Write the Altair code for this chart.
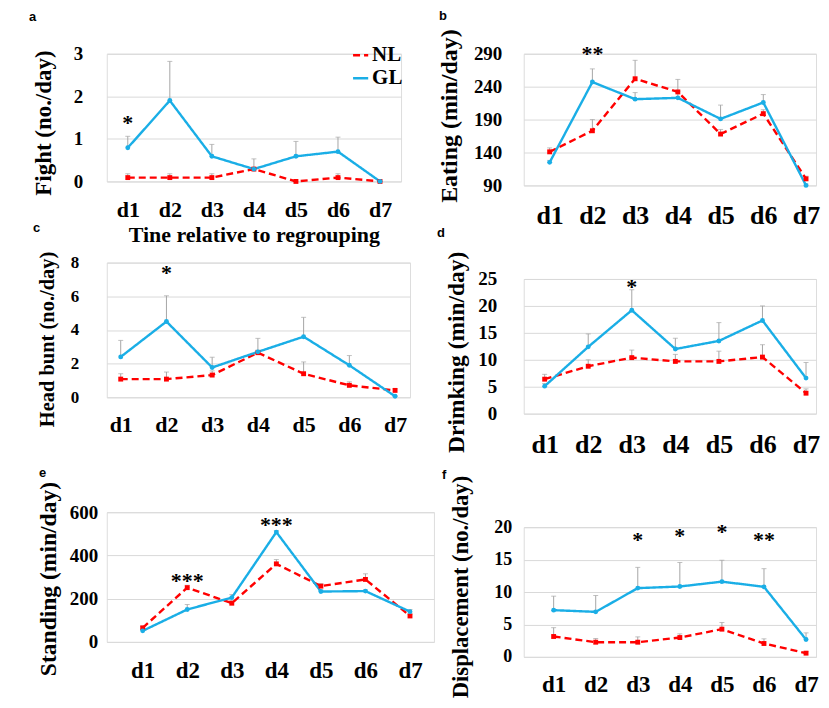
import altair as alt
import pandas as pd

days = ["d1", "d2", "d3", "d4", "d5", "d6", "d7"]
groups = ["NL", "GL"]

fight_nl = [0.09, 0.09, 0.09, 0.29, 0.0, 0.09, 0.0]
fight_nl_err = [0.18, 0.18, 0.18, 0.33, 0.0, 0.18, 0.0]
fight_gl = [0.79, 1.9, 0.59, 0.29, 0.59, 0.70, 0.0]
fight_gl_err = [1.06, 2.82, 0.87, 0.53, 0.94, 1.04, 0.0]

eating_nl = [141, 173, 252, 232, 168, 199, 100]
eating_nl_err = [147, 190, 280, 251, 175, 205, 104]
eating_gl = [125, 247, 221, 223, 191, 216, 90]
eating_gl_err = [128, 267, 231, 233, 212, 228, 92]

headbunt_nl = [1.08, 1.08, 1.32, 2.65, 1.4, 0.71, 0.41]
headbunt_nl_err = [1.4, 1.5, 1.57, 2.8, 2.1, 0.92, 0.5]
headbunt_gl = [2.4, 4.5, 1.77, 2.7, 3.6, 1.9, 0.06]
headbunt_gl_err = [3.38, 6.03, 2.38, 3.5, 4.75, 2.48, 0.1]

drinking_nl = [6.4, 8.8, 10.4, 9.7, 9.7, 10.5, 3.8]
drinking_nl_err = [7.3, 10.0, 11.8, 11.0, 11.6, 12.8, 4.6]
drinking_gl = [5.1, 12.4, 19.2, 12.0, 13.5, 17.3, 6.6]
drinking_gl_err = [5.6, 14.8, 23.0, 14.0, 16.9, 20.0, 9.5]

standing_nl = [65, 251, 179, 361, 258, 289, 120]
standing_nl_err = [72, 262, 190, 381, 269, 315, 128]
standing_gl = [51, 150, 205, 508, 233, 235, 140]
standing_gl_err = [58, 173, 219, 515, 240, 240, 150]

displacement_nl = [3.14, 2.26, 2.26, 2.98, 4.27, 2.06, 0.57]
displacement_nl_err = [4.5, 2.83, 3.08, 3.55, 5.3, 2.78, 0.8]
displacement_gl = [7.2, 6.94, 10.6, 10.85, 11.6, 10.8, 2.67]
displacement_gl_err = [9.36, 9.46, 13.8, 14.55, 14.9, 13.6, 3.7]

# significance marks: day, height, label
fight_sig_days, fight_sig_vals, fight_sig_txt = ["d1"], [1.49], ["*"]
eating_sig_days, eating_sig_vals, eating_sig_txt = ["d2"], [297.6], ["**"]
headbunt_sig_days, headbunt_sig_vals, headbunt_sig_txt = ["d2"], [7.7], ["*"]
drinking_sig_days, drinking_sig_vals, drinking_sig_txt = ["d3"], [24.5], ["*"]
standing_sig_days, standing_sig_vals, standing_sig_txt = ["d2", "d4"], [303, 564], ["***", "***"]
displacement_sig_days = ["d3", "d4", "d5", "d6"]
displacement_sig_vals = [18.8, 19.4, 20.0, 18.8]
displacement_sig_txt = ["*", "*", "*", "**"]

RED = "#ff0000"
BLUE = "#1aaee6"
SERIF = "Liberation Serif"
SANS = "Liberation Sans"


def panel(letter, ytitle, nl, nl_err, gl, gl_err, sdays, svals, stxt, domain, ticks,
          width, height, letter_dx, title_offset, xlab_size, xlab_pad, ylab_size, ylab_pad,
          ytitle_size, ytitle_pad, ytitle_shift, xpad=0.5, xalign=0.5, legend=False,
          xtitle=None):
    df = pd.DataFrame({
        "day": days * 2,
        "group": ["NL"] * len(days) + ["GL"] * len(days),
        "value": nl + gl,
        "err": nl_err + gl_err,
    })
    sig = pd.DataFrame({"day": sdays, "value": svals, "txt": stxt})

    xaxis_kw = dict(labelAngle=0, domain=False, ticks=False, grid=False,
                    labelFont=SERIF, labelFontSize=xlab_size, labelFontWeight="bold",
                    labelColor="black", labelPadding=xlab_pad)
    if xtitle:
        xaxis_kw.update(title=xtitle, titleFont=SERIF, titleFontSize=22,
                        titleFontWeight="bold", titleColor="black", titlePadding=4)
    else:
        xaxis_kw.update(title=None)
    x = alt.X("day:O", sort=days,
              scale=alt.Scale(type="point", padding=xpad, align=xalign),
              axis=alt.Axis(**xaxis_kw))
    yscale = alt.Scale(domain=domain, nice=False, zero=False)
    yaxis = alt.Axis(values=ticks, grid=True, gridColor="#d9d9d9", gridWidth=1,
                     domain=False, ticks=False, labelOverlap=False, labelFont=SERIF,
                     labelFontSize=ylab_size, labelFontWeight="bold",
                     labelColor="black", labelPadding=ylab_pad, title=ytitle,
                     titleFont=SERIF, titleFontSize=ytitle_size,
                     titleFontWeight="bold", titleColor="black",
                     titlePadding=ytitle_pad, titleY=height / 2 + ytitle_shift)
    y = alt.Y("value:Q", scale=yscale, axis=yaxis)
    y_err = alt.Y("err:Q", scale=yscale, axis=yaxis)

    if legend:
        leg = alt.Legend(title=None, orient="none", legendX=244, legendY=-9,
                         symbolType="stroke", symbolSize=230, symbolStrokeWidth=2.5,
                         labelFont=SERIF, labelFontSize=21, labelFontWeight="bold",
                         labelColor="black", labelOffset=1, rowPadding=1, padding=0)
    else:
        leg = None
    color = alt.Color("group:N", scale=alt.Scale(domain=groups, range=[RED, BLUE]), legend=leg)
    dash = alt.StrokeDash("group:N", scale=alt.Scale(domain=groups, range=[[7, 4], [1, 0]]),
                          legend=leg)

    base = alt.Chart(df)
    rules = base.mark_rule(color="#a6a6a6", strokeWidth=1).encode(x=x, y=y, y2=alt.Y2("err:Q"))
    caps = base.mark_tick(color="#a6a6a6", size=5, thickness=1).encode(x=x, y=y_err)
    lines = base.mark_line(strokeWidth=2.4).encode(x=x, y=y, color=color, strokeDash=dash)
    pts_nl = base.transform_filter(alt.datum.group == "NL").mark_square(
        size=24, color=RED, opacity=1).encode(x=x, y=y)
    pts_gl = base.transform_filter(alt.datum.group == "GL").mark_circle(
        size=24, color=BLUE, opacity=1).encode(x=x, y=y)
    stars = alt.Chart(sig).mark_text(font=SERIF, fontSize=22, fontWeight="bold", color="black",
                                     baseline="middle", dy=5).encode(x=x, y=y, text="txt:N")

    return alt.layer(rules, caps, lines, pts_nl, pts_gl, stars).properties(
        width=width, height=height,
        title=alt.TitleParams(text=letter, anchor="start", frame="group", dx=letter_dx,
                              offset=title_offset, font=SANS, fontSize=13,
                              fontWeight="bold", color="black"))


pa = panel("a", "Fight (no./day)", fight_nl, fight_nl_err, fight_gl, fight_gl_err,
           fight_sig_days, fight_sig_vals, fight_sig_txt, [0, 3], [0, 1, 2, 3],
           295, 128, -78, 21, 22, 18.6, 19, 24, 23, 17.5, 5, legend=True,
           xtitle="Tine relative to regrouping")
pb = panel("b", "Eating (min/day)", eating_nl, eating_nl_err, eating_gl, eating_gl_err,
           eating_sig_days, eating_sig_vals, eating_sig_txt, [90, 290], [90, 140, 190, 240, 290],
           293, 132, -85, 5.5, 26, 17.5, 19, 22, 24, 11.5, -4, xpad=0.42, xalign=0.722)
pc = panel("c", "Head bunt (no./day)", headbunt_nl, headbunt_nl_err, headbunt_gl, headbunt_gl_err,
           headbunt_sig_days, headbunt_sig_vals, headbunt_sig_txt, [0, 8], [0, 2, 4, 6, 8],
           304, 135, -74, 16, 22, 17.6, 17, 28, 20.5, 12.5, 9, xpad=0.316, xalign=0.483)
pd_ = panel("d", "Drimking (min/day)", drinking_nl, drinking_nl_err, drinking_gl, drinking_gl_err,
            drinking_sig_days, drinking_sig_vals, drinking_sig_txt, [0, 25], [0, 5, 10, 15, 20, 25],
            293, 135, -87, 11.5, 26, 17.5, 19, 27, 23.5, 9.5, 5.5, xpad=0.355, xalign=0.677)
pe = panel("e", "Standing (min/day)", standing_nl, standing_nl_err, standing_gl, standing_gl_err,
           standing_sig_days, standing_sig_vals, standing_sig_txt, [0, 600], [0, 200, 400, 600],
           328, 130, -68, 1.5, 23, 17.8, 19, 9, 23.6, 8.5, 1.5, xpad=0.672, xalign=0.6)
pf = panel("f", "Displacement (no./day)", displacement_nl, displacement_nl_err, displacement_gl,
           displacement_gl_err, displacement_sig_days, displacement_sig_vals, displacement_sig_txt,
           [0, 20], [0, 5, 10, 15, 20],
           293, 130, -82, -6.5, 23, 16.8, 18, 12, 22.7, 21, -5.5, xpad=0.474, xalign=0.75)


def col(charts, spacing):
    return alt.concat(*charts, columns=1).properties(align="none", spacing=spacing).resolve_scale(
        color="independent", strokeDash="independent").resolve_legend(
        color="independent", strokeDash="independent")


left = col([pa, col([pc, pe], 29.2)], -26.6)
right = col([pb, col([pd_, pf], 9.8)], -3.2)

chart = alt.hconcat(left, right, spacing=1).resolve_scale(
    color="independent", strokeDash="independent").resolve_legend(
    color="independent", strokeDash="independent").properties(
    padding={"left": 20, "top": 0, "right": 0, "bottom": 0}
).configure_view(strokeWidth=0).configure(background="white")

chart.save("out.html", embed_options={"renderer": "svg", "actions": False})
